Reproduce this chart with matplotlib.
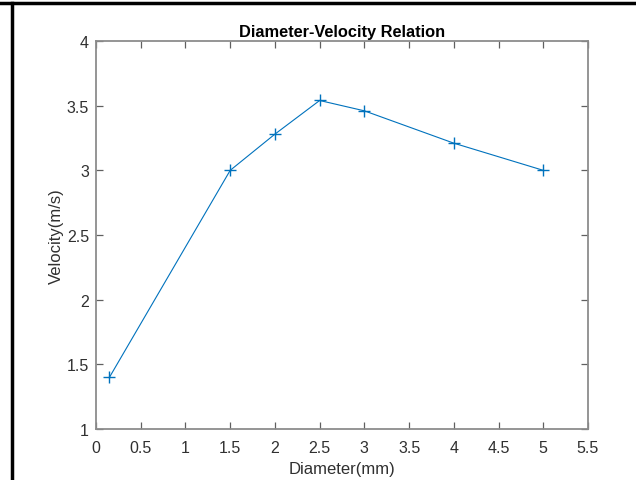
import matplotlib
matplotlib.use("Agg")
import matplotlib.pyplot as plt
from matplotlib.lines import Line2D

diameter = [0.15, 1.5, 2.0, 2.5, 3.0, 4.0, 5.0]
velocity = [1.40, 3.00, 3.28, 3.54, 3.46, 3.21, 3.00]
xticks = [0, 0.5, 1, 1.5, 2, 2.5, 3, 3.5, 4, 4.5, 5, 5.5]
xticklabels = ["0", "0.5", "1", "1.5", "2", "2.5", "3", "3.5", "4", "4.5", "5", "5.5"]
yticks = [1, 1.5, 2, 2.5, 3, 3.5, 4]
yticklabels = ["1", "1.5", "2", "2.5", "3", "3.5", "4"]

plt.rcParams['font.family'] = ['Liberation Sans', 'DejaVu Sans']

fig = plt.figure(figsize=(6.36, 4.81), dpi=100)
ax = fig.add_axes([0.151, 0.106, 0.7735, 0.8067])

ax.plot(diameter, velocity, color='#0072BD', linewidth=0.8, marker='+',
        markersize=8, markeredgewidth=1.0)

ax.set_xlim(0, 5.5)
ax.set_ylim(1, 4)
ax.set_xticks(xticks)
ax.set_xticklabels(xticklabels)
ax.set_yticks(yticks)
ax.set_yticklabels(yticklabels)

axcol = '#8c8c8c'
for s in ax.spines.values():
    s.set_color(axcol)
    s.set_linewidth(1.3)
ax.tick_params(direction='in', top=True, right=True, length=5, width=0.9,
               color='#606060', labelsize=11.5, labelcolor='#303030')
ax.tick_params(axis='x', pad=8)
ax.tick_params(axis='y', pad=5)

ax.set_xlabel('Diameter(mm)', fontsize=12, color='#303030', labelpad=4)
ax.set_ylabel('Velocity(m/s)', fontsize=12, color='#303030', labelpad=2)
ax.set_title('Diameter-Velocity Relation', fontsize=11.8, fontweight='bold',
             color='black', pad=3.5)

# screenshot frame lines (top and left)
fig.add_artist(Line2D([0, 1], [1 - 4/481, 1 - 4/481], transform=fig.transFigure,
                      color='black', linewidth=2.5))
fig.add_artist(Line2D([11.5/636, 11.5/636], [0, 1 - 4/481], transform=fig.transFigure,
                      color='black', linewidth=2.5))

fig.savefig('out.png', dpi=100)
